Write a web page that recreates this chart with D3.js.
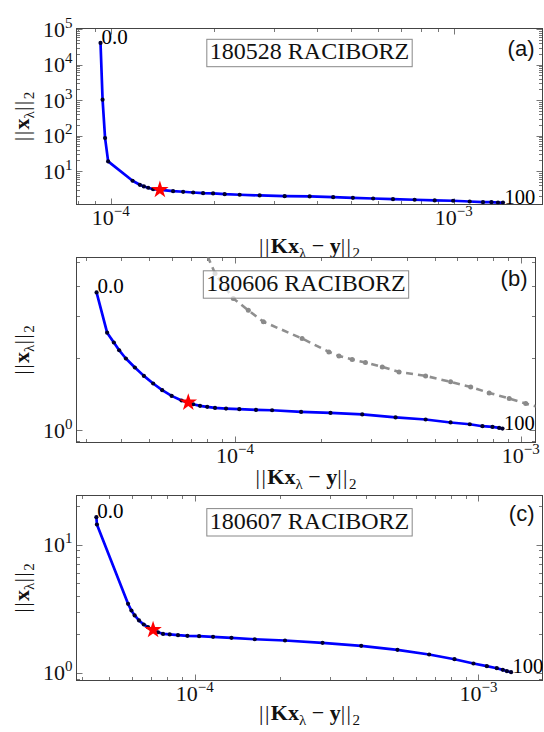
<!DOCTYPE html>
<html><head><meta charset="utf-8">
<script src="https://cdn.jsdelivr.net/npm/d3@7"></script>
<style>body{margin:0;background:#fff}svg{display:block}</style>
</head><body>
<script>
// ---------------- data ----------------
const panelTitles = ["180528 RACIBORZ", "180606 RACIBORZ", "180607 RACIBORZ"];
const panelTags = ["(a)", "(b)", "(c)"];
const firstLabel = "0.0";
const lastLabel = "100";

const aResidual = [9.33e-5, 9.46e-5, 9.62e-5, 9.82e-5, 1.157e-4, 1.215e-4, 1.248e-4, 1.285e-4, 1.328e-4, 1.519e-4, 1.625e-4, 1.738e-4, 1.858e-4, 1.987e-4, 2.148e-4, 2.375e-4, 2.716e-4, 3.213e-4, 3.80e-4, 4.45e-4, 5.08e-4, 5.82e-4, 6.65e-4, 7.69e-4, 8.80e-4, 9.96e-4, 1.113e-3, 1.217e-3, 1.288e-3, 1.346e-3, 1.392e-3];
const aNorm = [40700, 1032, 85.3, 18.8, 5.37, 4.14, 3.71, 3.41, 3.11, 2.735, 2.63, 2.51, 2.40, 2.36, 2.25, 2.17, 2.07, 1.98, 1.94, 1.85, 1.78, 1.70, 1.63, 1.57, 1.50, 1.47, 1.40, 1.34, 1.34, 1.31, 1.31];
const aStar = [1.39e-4, 2.99];

const bResidual = [3.276e-5, 3.567e-5, 3.766e-5, 3.931e-5, 4.149e-5, 4.461e-5, 4.797e-5, 5.169e-5, 5.56e-5, 5.999e-5, 6.5e-5, 7.14e-5, 7.54e-5, 7.99e-5, 8.51e-5, 9.30e-5, 1.035e-4, 1.184e-4, 1.348e-4, 1.703e-4, 2.158e-4, 2.787e-4, 3.646e-4, 4.645e-4, 5.68e-4, 6.63e-4, 7.34e-4, 7.96e-4, 8.40e-4, 8.63e-4];
const bNorm = [3.75, 2.55, 2.32, 2.154, 1.99, 1.825, 1.684, 1.565, 1.468, 1.390, 1.33, 1.283, 1.263, 1.251, 1.238, 1.231, 1.223, 1.215, 1.211, 1.192, 1.180, 1.163, 1.130, 1.108, 1.077, 1.059, 1.039, 1.032, 1.022, 1.016];
const bStar = [6.86e-5, 1.305];
const bGrayResidual = [7.72e-5, 8.51e-5, 9.86e-5, 1.113e-4, 1.257e-4, 1.717e-4, 2.13e-4, 2.31e-4, 2.57e-4, 2.86e-4, 3.275e-4, 3.75e-4, 4.645e-4, 5.68e-4, 6.68e-4, 7.75e-4, 9.11e-4, 1.041e-3, 1.22e-3];
const bGrayNorm = [5.90, 4.50, 3.54, 3.16, 2.83, 2.41, 2.12, 2.04, 1.97, 1.915, 1.835, 1.75, 1.684, 1.59, 1.515, 1.43, 1.356, 1.292, 1.223];

const cResidual = [4.50e-5, 4.52e-5, 5.82e-5, 5.98e-5, 6.14e-5, 6.36e-5, 6.61e-5, 6.84e-5, 7.42e-5, 7.73e-5, 8.16e-5, 8.73e-5, 9.42e-5, 1.036e-4, 1.16e-4, 1.347e-4, 1.627e-4, 2.08e-4, 2.82e-4, 3.86e-4, 5.18e-4, 6.70e-4, 8.23e-4, 9.60e-4, 1.070e-3, 1.160e-3, 1.218e-3, 1.259e-3, 1.303e-3];
const cNorm = [16.32, 14.32, 3.45, 3.06, 2.80, 2.56, 2.38, 2.27, 2.07, 2.01, 1.99, 1.964, 1.943, 1.929, 1.908, 1.874, 1.827, 1.785, 1.713, 1.623, 1.511, 1.389, 1.276, 1.182, 1.126, 1.086, 1.055, 1.029, 1.011];
const cStar = [7.13e-5, 2.16];

// domains (axis ranges) for each panel
const aXDomain = [7.94e-5, 1.815e-3], aYDomain = [1.153, 1.037e5];
const bXDomain = [2.787e-5, 1.126e-3], bYDomain = [0.8887, 5.244];
const cXDomain = [3.83e-5, 1.681e-3], cYDomain = [0.871, 24.1];

// ---------------- layout ----------------
const W = 544, H = 732;
const serif = "'Liberation Serif','Times New Roman',serif";
const sans = "'Liberation Sans',Arial,sans-serif";

const panels = [
  {res: aResidual, norm: aNorm, star: aStar, xDom: aXDomain, yDom: aYDomain,
   left: 76.5, right: 542.5, top: 28.5, bottom: 204.5, titleBase: 59.3, tagBase: 55.5, xTitleBase: 253},
  {res: bResidual, norm: bNorm, star: bStar, xDom: bXDomain, yDom: bYDomain,
   grayRes: bGrayResidual, grayNorm: bGrayNorm,
   left: 76.5, right: 535.5, top: 257.5, bottom: 442.5, titleBase: 290.8, tagBase: 285.5, xTitleBase: 484},
  {res: cResidual, norm: cNorm, star: cStar, xDom: cXDomain, yDom: cYDomain,
   left: 76.5, right: 542.5, top: 495.5, bottom: 680.5, titleBase: 528.6, tagBase: 521, xTitleBase: 720}
];

const svg = d3.select("body").append("svg").attr("width", W).attr("height", H)
  .attr("font-family", serif);

function logTicks(dom) {
  const lo = Math.min(dom[0], dom[1]), hi = Math.max(dom[0], dom[1]);
  const out = [];
  for (let k = Math.floor(Math.log10(lo)) - 1; k <= Math.ceil(Math.log10(hi)); k++) {
    for (let m = 1; m <= 9; m++) {
      const v = m * Math.pow(10, k);
      if (v >= lo * 0.9999 && v <= hi * 1.0001) out.push({v, major: m === 1, k});
    }
  }
  return out;
}

function powLabel(sel, k) {
  sel.append("tspan").text("10");
  sel.append("tspan").attr("font-size", 15).attr("dy", -9)
    .text(k < 0 ? "\u2212" + Math.abs(k) : String(k));
}

panels.forEach((p, i) => {
  const g = svg.append("g");
  const x = d3.scaleLog().domain(p.xDom).range([p.left, p.right]);
  const y = d3.scaleLog().domain(p.yDom).range([p.bottom, p.top]);
  const clipId = "clip" + i;
  svg.append("clipPath").attr("id", clipId).append("rect")
    .attr("x", p.left).attr("y", p.top).attr("width", p.right - p.left).attr("height", p.bottom - p.top);

  // ticks on all four sides
  const xt = logTicks(p.xDom), yt = logTicks(p.yDom);
  const tickColor = "#777";
  xt.forEach(t => {
    const px = Math.round(x(t.v)) + 0.5, L = t.major ? 6 : 3.5;
    g.append("line").attr("x1", px).attr("x2", px).attr("y1", p.bottom).attr("y2", p.bottom - L)
      .attr("stroke", tickColor).attr("stroke-width", 1);
    g.append("line").attr("x1", px).attr("x2", px).attr("y1", p.top).attr("y2", p.top + L)
      .attr("stroke", tickColor).attr("stroke-width", 1);
    if (t.major) {
      const tx = g.append("text").attr("x", x(t.v)).attr("y", p.bottom + 20)
        .attr("text-anchor", "middle").attr("font-size", 22).attr("fill", "#111");
      powLabel(tx, t.k);
    }
  });
  yt.forEach(t => {
    const py = Math.round(y(t.v)) + 0.5, L = t.major ? 6 : 3.5;
    g.append("line").attr("y1", py).attr("y2", py).attr("x1", p.left).attr("x2", p.left + L)
      .attr("stroke", tickColor).attr("stroke-width", 1);
    g.append("line").attr("y1", py).attr("y2", py).attr("x1", p.right).attr("x2", p.right - L)
      .attr("stroke", tickColor).attr("stroke-width", 1);
    if (t.major) {
      const ty = g.append("text").attr("x", p.left - 4).attr("y", y(t.v) + 7.5)
        .attr("text-anchor", "end").attr("font-size", 22).attr("fill", "#111");
      powLabel(ty, t.k);
    }
  });

  // frame
  g.append("rect").attr("x", p.left).attr("y", p.top)
    .attr("width", p.right - p.left).attr("height", p.bottom - p.top)
    .attr("fill", "none").attr("stroke", "#444").attr("stroke-width", 1);

  const plot = g.append("g").attr("clip-path", `url(#${clipId})`);
  const line = d3.line().x(d => x(d[0])).y(d => y(d[1]));

  // gray dashed comparison curve
  if (p.grayRes) {
    const gd = p.grayRes.map((v, j) => [v, p.grayNorm[j]]);
    plot.append("path").datum(gd).attr("d", line).attr("fill", "none")
      .attr("stroke", "#8f8f8f").attr("stroke-width", 2.6).attr("stroke-dasharray", "7,5");
    plot.selectAll("circle.gray").data(gd).enter().append("circle").attr("class", "gray")
      .attr("cx", d => x(d[0])).attr("cy", d => y(d[1])).attr("r", 2.5).attr("fill", "#8a8a8a");
  }

  // L-curve
  const data = p.res.map((v, j) => [v, p.norm[j]]);
  plot.append("path").datum(data).attr("d", line).attr("fill", "none")
    .attr("stroke", "#0000ff").attr("stroke-width", 2.7).attr("stroke-linejoin", "round");
  plot.selectAll("circle.pt").data(data).enter().append("circle").attr("class", "pt")
    .attr("cx", d => x(d[0])).attr("cy", d => y(d[1])).attr("r", 2.1).attr("fill", "#00002e");

  // star
  g.append("path").attr("d", d3.symbol(d3.symbolStar, 95)())
    .attr("transform", `translate(${x(p.star[0])},${y(p.star[1])})`).attr("fill", "#ff0000");

  // end labels
  const f = data[0], l = data[data.length - 1];
  g.append("text").attr("x", x(f[0]) + 1).attr("y", y(f[1]) + 1).attr("font-size", 21).text(firstLabel);
  g.append("text").attr("x", x(l[0]) + 1.5).attr("y", y(l[1]) + 1).attr("font-size", 20.5).text(lastLabel);

  // title box
  const cx = (p.left + p.right) / 2;
  const tt = g.append("text").attr("x", cx).attr("y", p.titleBase).attr("text-anchor", "middle")
    .attr("font-size", 24).attr("fill", "#111").text(panelTitles[i]);
  const bb = tt.node().getBBox();
  g.insert("rect", function () { return tt.node(); })
    .attr("x", bb.x - 3).attr("y", p.titleBase - 20).attr("width", bb.width + 6).attr("height", 27.4)
    .attr("fill", "#fff").attr("fill-opacity", 0.7).attr("stroke", "#888").attr("stroke-width", 1);

  // panel tag
  g.append("text").attr("x", p.right - 8).attr("y", p.tagBase).attr("text-anchor", "end")
    .attr("font-family", sans).attr("font-size", 22).attr("fill", "#111").text(panelTags[i]);

  // x-axis title
  const xtitle = g.append("text").attr("x", cx).attr("y", p.xTitleBase).attr("text-anchor", "middle")
    .attr("font-size", 22).attr("fill", "#111");
  xtitle.append("tspan").attr("letter-spacing", 1.5).text("||");
  xtitle.append("tspan").attr("font-weight", "bold").text("Kx");
  xtitle.append("tspan").attr("font-size", 15).attr("dy", 5).text("\u03bb");
  xtitle.append("tspan").attr("dy", -5).text(" \u2212 ");
  xtitle.append("tspan").attr("font-weight", "bold").text("y");
  xtitle.append("tspan").attr("letter-spacing", 1.5).text("||");
  xtitle.append("tspan").attr("font-size", 15).attr("dy", 5).text("2");

  // y-axis title
  const cy = (p.top + p.bottom) / 2;
  const ytitle = g.append("text").attr("transform", `translate(29,${cy}) rotate(-90)`)
    .attr("text-anchor", "middle").attr("font-size", 22).attr("fill", "#111");
  ytitle.append("tspan").attr("letter-spacing", 1.5).text("||");
  ytitle.append("tspan").attr("font-weight", "bold").text("x");
  ytitle.append("tspan").attr("font-size", 15).attr("dy", 5).text("\u03bb");
  ytitle.append("tspan").attr("dy", -5).attr("letter-spacing", 1.5).text("||");
  ytitle.append("tspan").attr("font-size", 15).attr("dy", 5).text("2");
});
</script>
</body></html>
